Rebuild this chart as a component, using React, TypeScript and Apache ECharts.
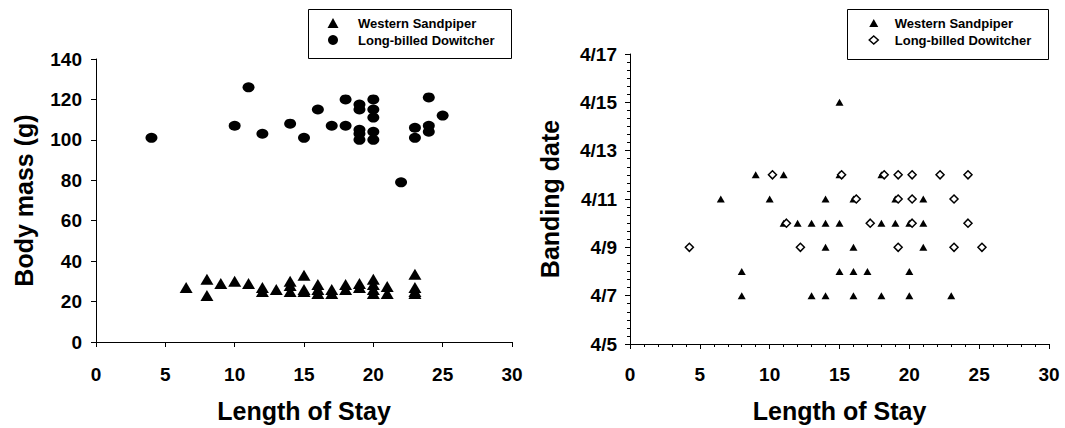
import React, { useEffect, useRef } from "react";
import * as echarts from "echarts";

// Length of stay (days) vs body mass (g)
const massSandpiper: [number, number][] = [
  [6.5, 27], [8, 31], [8, 23], [9, 29], [10, 30], [11, 29], [12, 27], [12, 25],
  [13, 26], [14, 30], [14, 28], [14, 25], [15, 33], [15, 26], [15, 25],
  [16, 28.5], [16, 26], [16, 24], [17, 26], [17, 24], [18, 28.5], [18, 26],
  [19, 29], [19, 27], [20, 31], [20, 28.5], [20, 26], [20, 24], [21, 27.5],
  [21, 24], [23, 33.5], [23, 27], [23, 25], [23, 24],
];
const massDowitcher: [number, number][] = [
  [4, 101], [10, 107], [11, 126], [12, 103], [14, 108], [15, 101], [16, 115],
  [17, 107], [18, 120], [18, 107], [19, 117.5], [19, 115], [19, 105], [19, 103],
  [19, 100], [20, 120], [20, 115], [20, 111], [20, 104], [20, 100], [22, 79],
  [23, 106], [23, 101], [24, 121], [24, 107], [24, 104], [25, 112],
];

// Length of stay (days) vs banding date (day of April)
const dateSandpiper: [number, number][] = [
  [15, 15], [9, 12], [11, 12], [15, 12], [18, 12], [6.5, 11], [10, 11], [14, 11],
  [16, 11], [19, 11], [21, 11], [11, 10], [12, 10], [13, 10], [14, 10], [15, 10],
  [18, 10], [19, 10], [20, 10], [21, 10], [14, 9], [16, 9], [21, 9], [8, 8],
  [15, 8], [16, 8], [17, 8], [20, 8], [8, 7], [13, 7], [14, 7], [16, 7], [18, 7],
  [20, 7], [23, 7],
];
const dateDowitcher: [number, number][] = [
  [4.25, 9], [10.2, 12], [15.15, 12], [18.2, 12], [19.2, 12], [20.2, 12],
  [22.2, 12], [24.2, 12], [16.2, 11], [19.2, 11], [20.2, 11], [23.2, 11],
  [11.2, 10], [17.2, 10], [20.2, 10], [24.2, 10], [12.2, 9], [19.2, 9],
  [23.2, 9], [25.2, 9],
];

const SP = "Western Sandpiper";
const LD = "Long-billed Dowitcher";
const xTitle = "Length of Stay";
const leftYTitle = "Body mass (g)";
const rightYTitle = "Banding date";
const dateMonth = "4/";

const FONT = "'Liberation Sans', Arial, Helvetica, sans-serif";

export default function App() {
  const ref = useRef<HTMLDivElement>(null);
  useEffect(() => {
    if (!ref.current) return;
    const chart = echarts.init(ref.current, undefined, { renderer: "svg" });
    const black = "#000";
    const tickLabel = { color: black, fontFamily: FONT, fontWeight: "bold" as const, fontSize: 19 };
    const nameStyle = { color: black, fontFamily: FONT, fontWeight: "bold" as const, fontSize: 25 };
    const axisLine = { show: true, onZero: false, lineStyle: { color: black, width: 1 } };
    const axisTick = { show: true, length: 5, lineStyle: { color: black, width: 1 } };
    const legendText = (pad: number) => ({
      color: black, fontFamily: FONT, fontWeight: "bold" as const, fontSize: 13,
      lineHeight: 14, padding: [0, 0, 0, pad],
    });

    chart.setOption({
      animation: false,
      backgroundColor: "#fff",
      grid: [
        { left: 96, right: 553, top: 59, bottom: 80 },
        { left: 630, right: 16, top: 54, bottom: 78 },
      ],
      graphic: [
        { type: "rect", shape: { x: 308.5, y: 9.5, width: 203, height: 49 }, style: { fill: "none", stroke: black, lineWidth: 1 } },
        { type: "rect", shape: { x: 847.5, y: 9.5, width: 201, height: 50 }, style: { fill: "none", stroke: black, lineWidth: 1 } },
      ],
      legend: [
        {
          left: 327.5, top: 16, orient: "vertical", padding: 0, itemWidth: 11, itemHeight: 10, itemGap: 3,
          selectedMode: false, textStyle: legendText(14.5),
          data: [
            { name: SP, icon: "triangle", itemStyle: { color: black } },
            { name: LD, icon: "circle", itemStyle: { color: black } },
          ],
        },
        {
          left: 868.5, top: 16, orient: "vertical", padding: 0, itemWidth: 9, itemHeight: 8, itemGap: 3,
          selectedMode: false, textStyle: legendText(11.5),
          data: [
            { name: SP, icon: "triangle", itemStyle: { color: black } },
            { name: LD, icon: "diamond", itemStyle: { color: "#fff", borderColor: black, borderWidth: 1.5 } },
          ],
        },
      ],
      xAxis: [
        {
          gridIndex: 0, type: "value", min: 0, max: 30, interval: 5,
          axisLine, axisTick, splitLine: { show: false },
          axisLabel: { ...tickLabel, margin: 23 },
          name: xTitle, nameLocation: "middle", nameGap: 56, nameTextStyle: nameStyle,
        },
        {
          gridIndex: 1, type: "value", min: 0, max: 30, interval: 5,
          axisLine, axisTick, splitLine: { show: false },
          axisLabel: { ...tickLabel, margin: 21 },
          name: xTitle, nameLocation: "middle", nameGap: 54, nameTextStyle: nameStyle,
        },
        {
          gridIndex: 1, type: "value", min: 0, max: 30, interval: 1,
          axisLine: { show: false }, axisLabel: { show: false }, splitLine: { show: false },
          axisTick: { show: true, inside: true, length: 3, lineStyle: { color: black, width: 1 } },
        },
      ],
      yAxis: [
        {
          gridIndex: 0, type: "value", min: 0, max: 140, interval: 20,
          axisLine, axisTick, splitLine: { show: false },
          axisLabel: { ...tickLabel, margin: 14 },
          name: leftYTitle, nameLocation: "middle", nameGap: 60, nameRotate: 90, nameTextStyle: nameStyle,
        },
        {
          gridIndex: 1, type: "value", min: 5, max: 17, interval: 2,
          axisLine, axisTick, splitLine: { show: false },
          axisLabel: { ...tickLabel, margin: 13, formatter: (v: number) => dateMonth + v },
          name: rightYTitle, nameLocation: "middle", nameGap: 68, nameRotate: 90, nameTextStyle: nameStyle,
        },
        {
          gridIndex: 1, type: "value", min: 0, max: 36, interval: 1,
          axisLine: { show: false }, axisLabel: { show: false }, splitLine: { show: false },
          axisTick: { show: true, inside: true, length: 3, lineStyle: { color: black, width: 1 } },
        },
      ],
      series: [
        {
          name: SP, type: "scatter", xAxisIndex: 0, yAxisIndex: 0, data: massSandpiper,
          symbol: "triangle", symbolSize: [13, 11], itemStyle: { color: black, opacity: 1 },
        },
        {
          name: LD, type: "scatter", xAxisIndex: 0, yAxisIndex: 0, data: massDowitcher,
          symbol: "circle", symbolSize: [12, 10], itemStyle: { color: black, opacity: 1 },
        },
        {
          name: SP, type: "scatter", xAxisIndex: 1, yAxisIndex: 1, data: dateSandpiper,
          symbol: "triangle", symbolSize: [8, 7], itemStyle: { color: black, opacity: 1 },
        },
        {
          name: LD, type: "scatter", xAxisIndex: 1, yAxisIndex: 1, data: dateDowitcher,
          symbol: "diamond", symbolSize: [8, 8],
          itemStyle: { color: "#fff", borderColor: black, borderWidth: 1.5, opacity: 1 },
        },
      ],
    });
    return () => chart.dispose();
  }, []);
  return (
    <div
      ref={ref}
      style={{ position: "fixed", left: 0, top: 0, width: 1065, height: 428, background: "#fff" }}
    />
  );
}
